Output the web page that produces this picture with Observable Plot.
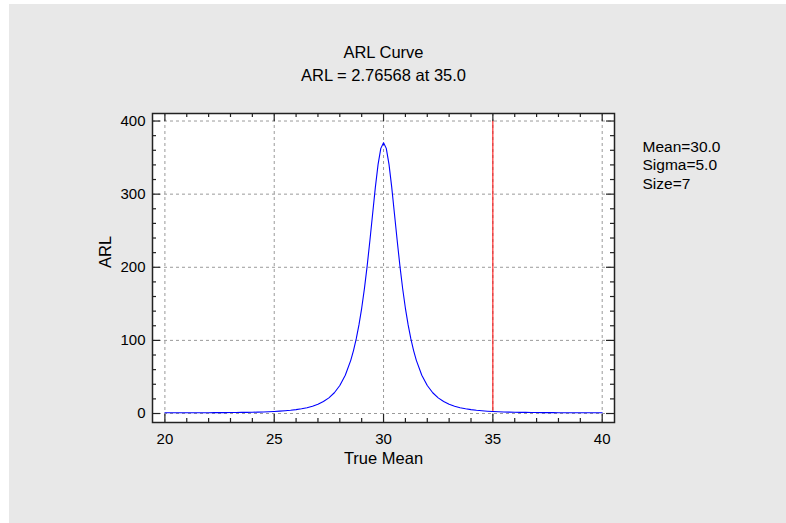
<!DOCTYPE html>
<html><head><meta charset="utf-8">
<script src="https://cdn.jsdelivr.net/npm/d3@7"></script>
<script src="https://cdn.jsdelivr.net/npm/@observablehq/plot@0.6"></script>
<style>
body{margin:0;background:#fff;width:786px;height:523px;position:relative;overflow:hidden;font-family:"Liberation Sans",Arial,sans-serif}
#bg{position:absolute;left:9px;top:4px;width:777px;height:519px;background:#e8e8e8}
#chart{position:absolute;left:0;top:0}
</style></head><body><div id="bg"></div><div id="chart"></div>
<script>
const titleText = "ARL Curve";
const subtitleText = "ARL = 2.76568 at 35.0";
const xLabel = "True Mean";
const yLabel = "ARL";
const legendLines = ["Mean=30.0", "Sigma=5.0", "Size=7"];

const trueMean = [20,20.25,20.5,20.75,21,21.25,21.5,21.75,22,22.25,22.5,22.75,23,23.25,23.5,23.75,24,24.25,24.5,24.75,25,25.25,25.5,25.75,26,26.25,26.5,26.75,27,27.25,27.5,27.75,28,28.25,28.5,28.625,28.75,28.875,29,29.125,29.25,29.375,29.5,29.625,29.75,29.875,30,30.125,30.25,30.375,30.5,30.625,30.75,30.875,31,31.125,31.25,31.375,31.5,31.75,32,32.25,32.5,32.75,33,33.25,33.5,33.75,34,34.25,34.5,34.75,35,35.25,35.5,35.75,36,36.25,36.5,36.75,37,37.25,37.5,37.75,38,38.25,38.5,38.75,39,39.25,39.5,39.75,40];
const arl = [1.011,1.016,1.022,1.030,1.041,1.054,1.072,1.094,1.122,1.157,1.200,1.252,1.317,1.396,1.493,1.611,1.756,1.934,2.154,2.43,2.766,3.19,3.73,4.42,5.30,6.46,7.97,9.98,12.68,16.34,21.38,28.4,38.3,52.4,72.7,86.0,102.0,121.1,143.9,170.7,201.6,236.2,272.9,309.2,340.8,362.6,370.4,362.6,340.8,309.2,272.9,236.2,201.6,170.7,143.9,121.1,102.0,86.0,72.7,52.4,38.3,28.4,21.38,16.34,12.68,9.98,7.97,6.46,5.30,4.42,3.73,3.19,2.766,2.43,2.154,1.934,1.756,1.611,1.493,1.396,1.317,1.252,1.200,1.157,1.122,1.094,1.072,1.054,1.041,1.030,1.022,1.016,1.011];

const markerMean = 35.0;
const markerArl = 2.76568;

const xTicks = [20,25,30,35,40];
const xMinor = [21,22,23,24,26,27,28,29,31,32,33,34,36,37,38,39];
const yTicks = [0,100,200,300,400];
const yMinor = [20,40,60,80,120,140,160,180,220,240,260,280,320,340,360,380];

const data = trueMean.map((x, i) => ({x, y: arl[i]}));

const W = 786, H = 523;
const mL = 152, mR = 172, mT = 113, mB = 101;
const fw = W - mL - mR, fh = H - mT - mB;
const tickCol = "#222";
const gridStyle = {stroke: "#9a9a9a", strokeDasharray: "3,3", strokeWidth: 1};

const chart = Plot.plot({
  width: W, height: H,
  marginLeft: mL, marginRight: mR, marginTop: mT, marginBottom: mB,
  style: {background: "transparent", fontFamily: "'Liberation Sans', Arial, sans-serif", color: "#000"},
  x: {domain: [19.433, 40.563]},
  y: {domain: [-12.3, 410.3]},
  marks: [
    Plot.frame({fill: "white", stroke: "none"}),
    Plot.ruleX(xTicks, {x: d => d, ...gridStyle}),
    Plot.ruleY(yTicks, {y: d => d, ...gridStyle}),
    Plot.line(data, {x: "x", y: "y", stroke: "#0000ff", strokeWidth: 1.1}),
    Plot.ruleX([markerMean], {x: d => d, y1: markerArl, y2: 400, stroke: "#ff0000", strokeWidth: 1}),
    Plot.frame({stroke: tickCol, strokeWidth: 1.5}),
    Plot.tickX(xTicks, {x: d => d, insetTop: fh - 8, stroke: tickCol, strokeWidth: 1.2}),
    Plot.tickX(xTicks, {x: d => d, insetBottom: fh - 8, stroke: tickCol, strokeWidth: 1.2}),
    Plot.tickX(xMinor, {x: d => d, insetTop: fh - 4, stroke: tickCol, strokeWidth: 1.2}),
    Plot.tickX(xMinor, {x: d => d, insetBottom: fh - 4, stroke: tickCol, strokeWidth: 1.2}),
    Plot.tickY(yTicks, {y: d => d, insetRight: fw - 8, stroke: tickCol, strokeWidth: 1.2}),
    Plot.tickY(yTicks, {y: d => d, insetLeft: fw - 8, stroke: tickCol, strokeWidth: 1.2}),
    Plot.tickY(yMinor, {y: d => d, insetRight: fw - 4, stroke: tickCol, strokeWidth: 1.2}),
    Plot.tickY(yMinor, {y: d => d, insetLeft: fw - 4, stroke: tickCol, strokeWidth: 1.2}),
    Plot.axisX(xTicks, {tickSize: 0, tickPadding: 11, fontSize: 15, label: null, fill: "#000"}),
    Plot.axisY(yTicks, {tickSize: 0, tickPadding: 7, fontSize: 15, label: null, fill: "#000"}),
    Plot.text([titleText], {text: d => d, frameAnchor: "top", lineAnchor: "bottom", dy: -56, fontSize: 16.5, fill: "#000"}),
    Plot.text([subtitleText], {text: d => d, frameAnchor: "top", lineAnchor: "bottom", dy: -33, fontSize: 16.5, fill: "#000"}),
    Plot.text([xLabel], {text: d => d, frameAnchor: "bottom", lineAnchor: "bottom", dy: 41, fontSize: 16.5, fill: "#000"}),
    Plot.text([yLabel], {text: d => d, frameAnchor: "left", lineAnchor: "bottom", rotate: -90, dx: -42, fontSize: 16.5, fill: "#000"}),
    Plot.text([legendLines.join("\n")], {text: d => d, frameAnchor: "top-right", textAnchor: "start", lineAnchor: "top", lineHeight: 19/15.5, dx: 28, dy: 24.5, fontSize: 15.5, fill: "#000"})
  ]
});
document.getElementById("chart").appendChild(chart);
</script>
</body></html>
